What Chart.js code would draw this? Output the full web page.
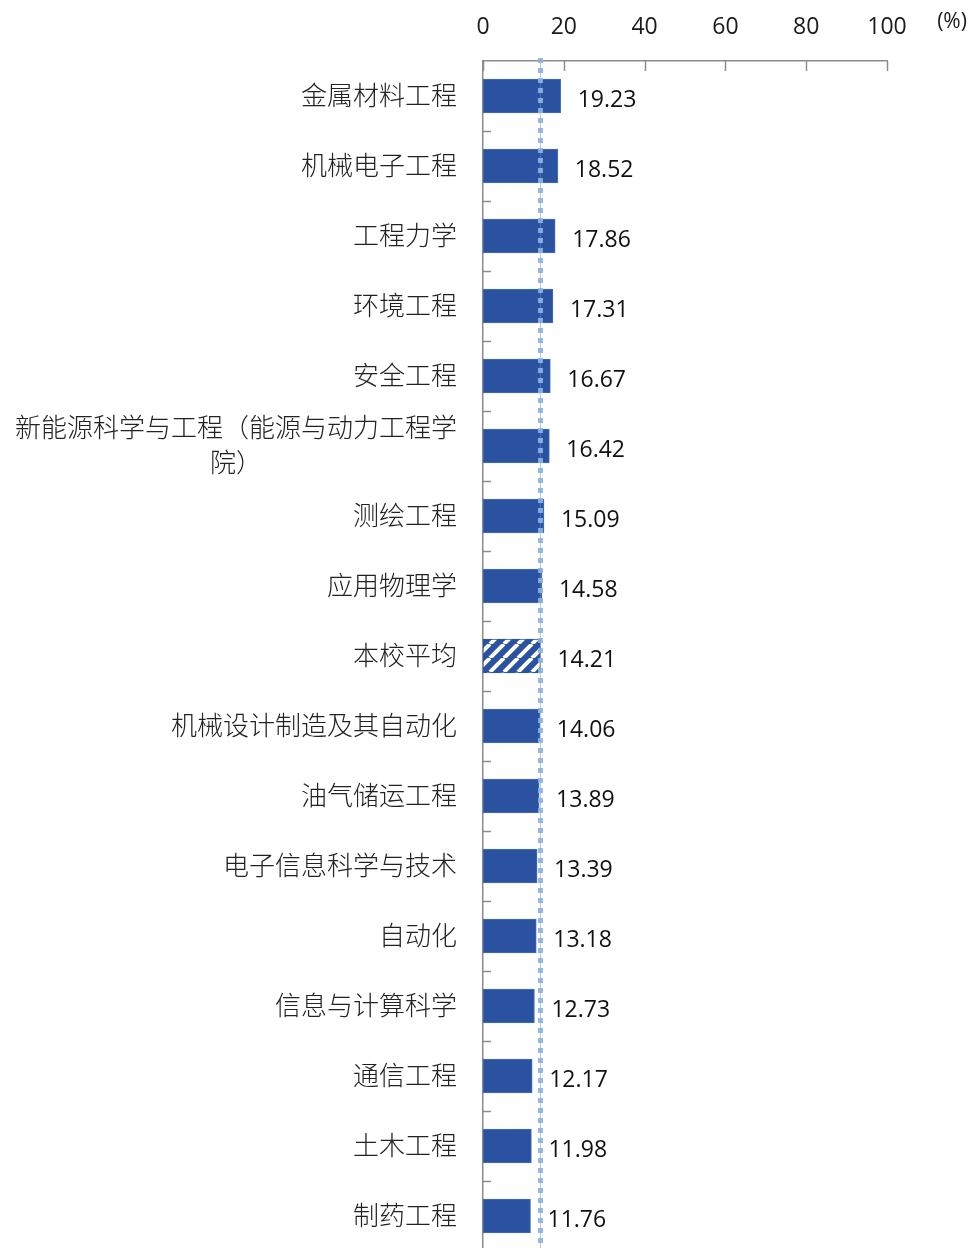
<!DOCTYPE html>
<html>
<head>
<meta charset="utf-8">
<script src="https://cdn.jsdelivr.net/npm/chart.js@4.4.0/dist/chart.umd.min.js"></script>
<style>
  html, body { margin: 0; padding: 0; background: #fff; overflow: hidden; }
  #wrap { width: 971px; height: 1248px; overflow: hidden; }
</style>
</head>
<body>
<div id="wrap"><canvas id="chart" width="971" height="1260"></canvas></div>
<script>
// majors ranked by rate (%)
const majors = [
  '金属材料工程',
  '机械电子工程',
  '工程力学',
  '环境工程',
  '安全工程',
  ['新能源科学与工程（能源与动力工程学', '院）'],
  '测绘工程',
  '应用物理学',
  '本校平均',
  '机械设计制造及其自动化',
  '油气储运工程',
  '电子信息科学与技术',
  '自动化',
  '信息与计算科学',
  '通信工程',
  '土木工程',
  '制药工程'
];
const rates = [19.23, 18.52, 17.86, 17.31, 16.67, 16.42, 15.09, 14.58, 14.21,
               14.06, 13.89, 13.39, 13.18, 12.73, 12.17, 11.98, 11.76];
const schoolAverage = 14.21;
const xTickValues = [0, 20, 40, 60, 80, 100];
const unitLabel = '(%)';

const BAR_BLUE = '#2A52A0';
const AXIS_GREY = '#8c8c8c';
const avgIndex = majors.indexOf('本校平均');

function stripePattern(ctx) {
  const size = 14;
  const c = document.createElement('canvas');
  c.width = size; c.height = size;
  const g = c.getContext('2d');
  g.fillStyle = BAR_BLUE;
  g.fillRect(0, 0, size, size);
  g.strokeStyle = '#ffffff';
  g.lineWidth = 4;
  for (const o of [-size, 0, size]) {
    g.beginPath();
    g.moveTo(o, size);
    g.lineTo(o + size, 0);
    g.stroke();
  }
  return ctx.createPattern(c, 'repeat');
}

const canvas = document.getElementById('chart');
const ctx2d = canvas.getContext('2d');
const fills = rates.map((v, i) => i === avgIndex ? stripePattern(ctx2d) : BAR_BLUE);

// tick marks, average line, value labels and category labels
const decor = {
  id: 'decor',
  afterDatasetsDraw(chart) {
    const { ctx, chartArea, scales: { x, y } } = chart;
    ctx.save();

    function seg(x1, y1, x2, y2) {
      ctx.beginPath();
      ctx.moveTo(x1, y1);
      ctx.lineTo(x2, y2);
      ctx.stroke();
    }

    // inward ticks
    ctx.strokeStyle = AXIS_GREY;
    ctx.lineWidth = 1.5;
    xTickValues.forEach(v => {
      const px = Math.round(x.getPixelForValue(v)) + 0.5;
      seg(px, chartArea.top, px, chartArea.top + 10);
    });
    for (let i = 1; i < majors.length; i++) {
      const py = Math.round((y.getPixelForValue(i - 1) + y.getPixelForValue(i)) / 2) + 0.5;
      seg(chartArea.left, py, chartArea.left + 8, py);
    }

    // school average
    const ax = Math.round(x.getPixelForValue(schoolAverage));
    ctx.strokeStyle = 'rgba(110,150,205,0.5)';
    ctx.lineWidth = 1;
    seg(ax + 0.5, chartArea.top - 3, ax + 0.5, chartArea.bottom);
    ctx.strokeStyle = 'rgba(140,178,225,0.9)';
    ctx.lineWidth = 5;
    ctx.setLineDash([5, 5]);
    seg(ax + 0.5, chartArea.top - 3, ax + 0.5, chartArea.bottom);
    ctx.setLineDash([]);

    // values
    ctx.fillStyle = '#111';
    ctx.font = '23px "Open Sans"';
    ctx.textAlign = 'left';
    ctx.textBaseline = 'middle';
    rates.forEach((v, i) => {
      ctx.fillText(v.toFixed(2), x.getPixelForValue(v) + 17, y.getPixelForValue(i) + 4);
    });

    // categories
    ctx.fillStyle = '#222';
    ctx.font = '300 26px "Noto Sans CJK SC"';
    const right = chartArea.left - 26;
    majors.forEach((m, i) => {
      const cy = y.getPixelForValue(i) - 1;
      if (Array.isArray(m)) {
        const lh = 35;
        const w = Math.max(...m.map(t => ctx.measureText(t).width));
        const cx = right - w / 2;
        ctx.textAlign = 'center';
        m.forEach((t, k) => {
          ctx.fillText(t, cx, cy - (m.length - 1) * lh / 2 + k * lh);
        });
      } else {
        ctx.textAlign = 'right';
        ctx.fillText(m, right, cy);
      }
    });

    // unit
    ctx.fillStyle = '#1a1a1a';
    ctx.font = '21px "Open Sans"';
    ctx.textAlign = 'center';
    ctx.fillText(unitLabel, 952, 22);

    ctx.restore();
  }
};

new Chart(canvas, {
  type: 'bar',
  data: {
    labels: majors,
    datasets: [{
      data: rates,
      backgroundColor: fills,
      borderColor: rates.map((v, i) => i === avgIndex ? BAR_BLUE : '#4470B8'),
      borderWidth: 1,
      borderSkipped: false,
      barThickness: 34
    }]
  },
  options: {
    indexAxis: 'y',
    responsive: false,
    animation: false,
    layout: { padding: { left: 0, right: 84, top: 0, bottom: 9 } },
    plugins: {
      legend: { display: false },
      tooltip: { enabled: false }
    },
    scales: {
      x: {
        position: 'top',
        min: 0,
        max: 100,
        afterBuildTicks: s => { s.ticks = xTickValues.map(v => ({ value: v })); },
        afterFit: s => { s.height = 61; },
        grid: { display: false, drawTicks: false },
        border: { display: true, color: AXIS_GREY, width: 1.5 },
        ticks: {
          padding: 20,
          color: '#1a1a1a',
          font: { family: '"Open Sans"', size: 23 }
        }
      },
      y: {
        afterFit: s => { s.width = 483; },
        grid: { display: false, drawTicks: false },
        border: { display: true, color: AXIS_GREY, width: 1.5 },
        ticks: { display: false }
      }
    }
  },
  plugins: [decor]
});
</script>
</body>
</html>
